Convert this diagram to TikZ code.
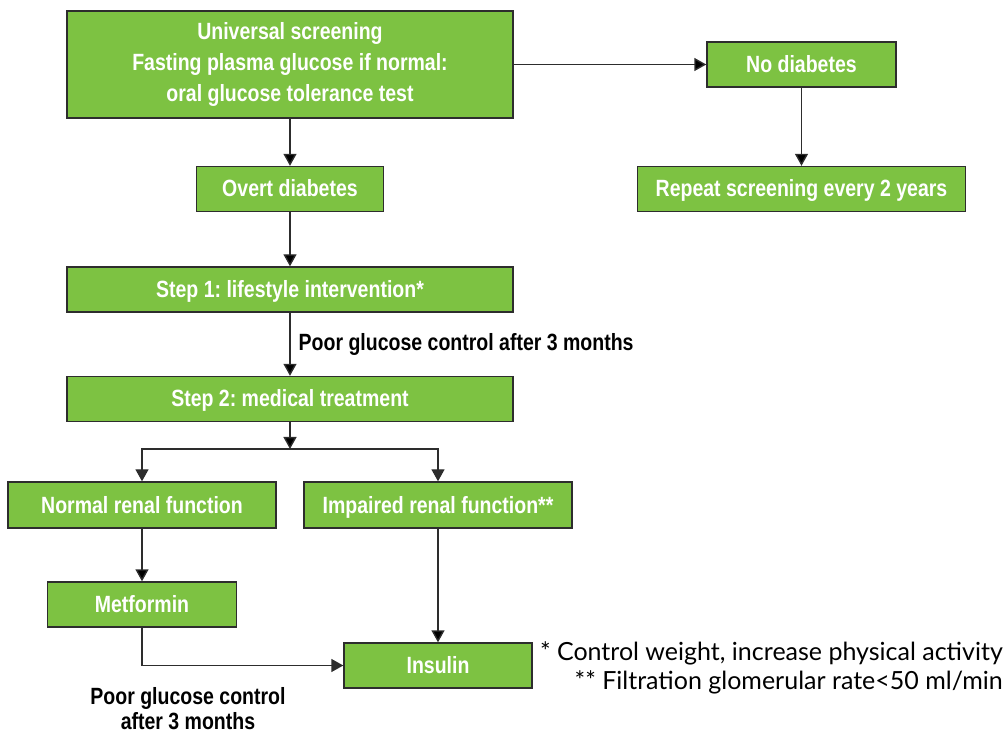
\documentclass[tikz,border=0pt]{standalone}
\usepackage{fontspec}
\setmainfont{Lato}
\newfontfamily\boxfont[FakeStretch=0.83]{Liberation Sans}
\usetikzlibrary{positioning, arrows.meta}
\definecolor{boxgreen}{RGB}{125,194,66}
\definecolor{boxline}{RGB}{45,45,45}
\frenchspacing
\tikzset{
  >={Triangle[length=12pt, width=13pt]}, % solid arrow heads
  greenbox/.style={draw=boxline, line width=1.4pt, fill=boxgreen, text=white,
    font=\boxfont\bfseries\fontsize{23.5}{31}\selectfont, align=center,
    inner sep=0pt, minimum height=45pt}, % every box of the chart
  oneline/.style={text height=19pt, text depth=3pt}, % same baseline in one-line boxes
  steplabel/.style={font=\boxfont\bfseries\fontsize{23.5}{25}\selectfont, align=center, inner sep=0pt},
  flow/.style={->, draw=boxline, line width=1.4pt},
}
\begin{document}
\begin{tikzpicture}[x=1pt, y=-1pt, on grid]
    \useasboundingbox (0,0) rectangle (1005,735);
    \node[greenbox, minimum width=446pt, minimum height=107pt] (screen) at (290,64.5)
        {Universal screening\\Fasting plasma glucose if normal:\\oral glucose tolerance test};
    \node[greenbox, oneline, minimum width=189pt] (nodiab) at (801.5,64.5) {No diabetes};
    \node[greenbox, oneline, minimum width=328pt] (repeat) [below=124.5pt of nodiab] {Repeat screening every 2 years};
    \node[greenbox, oneline, minimum width=187pt] (overt) [below=124.5pt of screen] {Overt diabetes};
    \node[greenbox, oneline, minimum width=446pt] (step1) [below=100.5pt of overt] {Step 1: lifestyle intervention*};
    \node[greenbox, oneline, minimum width=446pt] (step2) [below=109.5pt of step1] {Step 2: medical treatment};
    \coordinate (split) at (290,449);
    \node[greenbox, oneline, minimum width=268pt, minimum height=46pt] (normal) at (142,505) {Normal renal function};
    \node[greenbox, oneline, minimum width=268pt, minimum height=46pt] (impaired) at (438,505) {Impaired renal function**};
    \node[greenbox, oneline, minimum width=189pt] (metformin) [below=99.5pt of normal] {Metformin};
    \node[greenbox, oneline, minimum width=188pt] (insulin) at (438,665.5) {Insulin};
    \node[steplabel] (poorlate) at (188,709) {Poor glucose control\\after 3 months};
    \node[align=right, anchor=east, inner sep=0pt, font=\fontsize{25}{29}\selectfont] (notes) at (1003,668)
        {* Control weight, increase physical activity\\** Filtration glomerular rate<50 ml/min};

    \path[flow]
    (screen) edge (nodiab)
             edge (overt)
    (nodiab) edge (repeat)
    (overt) edge (step1)
    (step1) edge node[steplabel, right=8pt, anchor=west] {Poor glucose control after 3 months} (step2)
    (step2) edge (split)
    (normal) edge (metformin)
    (impaired) edge (insulin);
    \draw[flow] (split) -| (normal);
    \draw[flow] (split) -| (impaired);
    \draw[flow] (metformin) |- (insulin);
\end{tikzpicture}
\end{document}
